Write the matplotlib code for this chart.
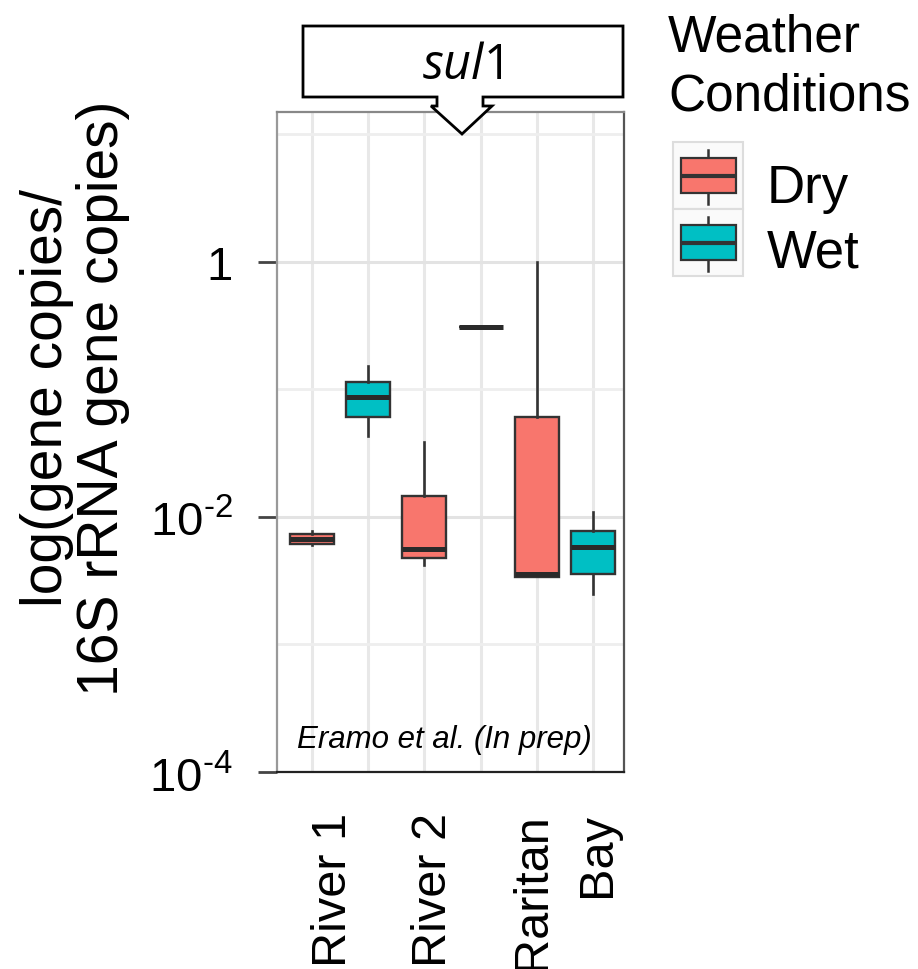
import numpy as np
import matplotlib
matplotlib.use("Agg")
import matplotlib.pyplot as plt
from matplotlib.patches import Rectangle, Polygon
from matplotlib.lines import Line2D
from matplotlib.ticker import FixedLocator, NullFormatter
import matplotlib.transforms as mtransforms

# ---------------- data ----------------
categories = ["River 1", "River 2", "Raritan\nBay"]
conditions = ["Dry", "Wet"]
colors = ["#F8766D", "#00BFC4"]

# five-number summaries (gene copies / 16S rRNA gene copies)
dry_whislo = [0.0060, 0.0042, 0.0034]
dry_q1 = [0.0061, 0.0048, 0.0034]
dry_med = [0.0067, 0.0056, 0.0036]
dry_q3 = [0.0074, 0.0146, 0.061]
dry_whishi = [0.0078, 0.039, 1.0]

wet_whislo = [0.043, 0.31, 0.0025]
wet_q1 = [0.061, 0.31, 0.0036]
wet_med = [0.088, 0.31, 0.0058]
wet_q3 = [0.115, 0.31, 0.0078]
wet_whishi = [0.153, 0.31, 0.0109]

ytick_values = [1, 1e-2, 1e-4]
ytick_labels = ["1", r"10$^{\text{-2}}$", r"10$^{\text{-4}}$"]
ygrid_minor = [10, 1e-1, 1e-3]

# ---------------- style ----------------
plt.rcParams['font.family'] = ['Liberation Sans', 'DejaVu Sans']
plt.rcParams['mathtext.fontset'] = 'custom'
plt.rcParams['mathtext.rm'] = 'Liberation Sans'
plt.rcParams['mathtext.it'] = 'Open Sans:italic'

W, H = 918, 970
fig = plt.figure(figsize=(W / 100, H / 100), dpi=100)


def fx(px):
    return px / W


def fy(py):
    return 1 - py / H


ax = fig.add_axes([fx(277), fy(773), (624 - 277) / W, (773 - 113) / H])
ax.set_yscale('log')
ax.set_ylim(1e-4, 10 ** 1.176)
ax.set_xlim(0.44, 3.524)
ax.set_axisbelow(True)

series = [
    (dry_whislo, dry_q1, dry_med, dry_q3, dry_whishi),
    (wet_whislo, wet_q1, wet_med, wet_q3, wet_whishi),
]
offset = 0.25
width = 0.39
cat_pos = np.arange(1, len(categories) + 1)
all_pos = []
for ci, (vals, col) in enumerate(zip(series, colors)):
    lo, q1, med, q3, hi = vals
    stats = [dict(whislo=lo[i], q1=q1[i], med=med[i], q3=q3[i], whishi=hi[i], fliers=[])
             for i in range(len(categories))]
    pos = cat_pos + (ci - 0.5) * 2 * offset
    all_pos.extend(pos)
    ax.bxp(stats, positions=pos, widths=width, patch_artist=True,
           showfliers=False, showcaps=False, manage_ticks=False,
           boxprops=dict(facecolor=col, edgecolor='#333333', linewidth=1.7),
           medianprops=dict(color='#2a2a2a', linewidth=3.6, solid_capstyle='butt'),
           whiskerprops=dict(color='#333333', linewidth=1.9),
           zorder=3)

# grid
ax.set_xticks(sorted(all_pos), minor=True)
ax.xaxis.grid(True, which='minor', color='#E8E8E8', linewidth=2.2)
ax.yaxis.set_major_locator(FixedLocator(ytick_values))
ax.set_yticklabels(ytick_labels)
ax.yaxis.set_minor_locator(FixedLocator(ygrid_minor))
ax.yaxis.set_minor_formatter(NullFormatter())
ax.yaxis.grid(True, which='major', color='#E3E3E3', linewidth=2.2)
ax.yaxis.grid(True, which='minor', color='#EEEEEE', linewidth=2.0)

ax.tick_params(axis='y', which='major', length=14, width=2, color='#444444',
               pad=18, labelsize=34)
ax.tick_params(axis='y', which='minor', length=0)
ax.tick_params(axis='x', which='both', length=0)
ax.set_xticks(cat_pos)
ax.set_xticklabels(categories, rotation=90, fontsize=35)
ax.tick_params(axis='x', which='major', pad=29)
label_shift_px = [-7, -19, 0]
for lab, dx in zip(ax.get_xticklabels(), label_shift_px):
    lab.set_multialignment('right')
    lab.set_linespacing(1.55)
    lab.set_transform(lab.get_transform() +
                      mtransforms.ScaledTranslation(dx / 100, 0, fig.dpi_scale_trans))

ax.spines['left'].set_color('#999999')
ax.spines['top'].set_color('#888888')
ax.spines['right'].set_color('#555555')
ax.spines['bottom'].set_color('#222222')
for s in ax.spines.values():
    s.set_linewidth(1.6)

ax.text((444 - 277) / 347, (773 - 740) / 660, "Eramo et al. (In prep)",
        transform=ax.transAxes, ha='center', va='center', fontsize=22.5,
        fontstyle='italic')

# y label
fig.text(fx(75), fy(398), "log(gene copies/\n16S rRNA gene copies)", rotation=90,
         ha='center', va='center', fontsize=41, linespacing=1.07)

# strip header with arrow
hdr = [(303, 27), (623, 27), (623, 98), (483, 98), (483, 107), (492, 107),
       (462, 135), (431, 107), (437, 107), (437, 98), (303, 98)]
fig.patches.append(Polygon([(fx(x), fy(y)) for x, y in hdr], closed=True,
                           transform=fig.transFigure, facecolor='white',
                           edgecolor='black', linewidth=2.0, zorder=5))
fig.text(fx(462), fy(66), r"$\mathit{sul}$1", family=['Open Sans', 'DejaVu Sans'],
         ha='center', va='center', fontsize=35, zorder=6)

# legend
fig.text(fx(668), fy(13), "Weather\nConditions", ha='left', va='top',
         fontsize=37, linespacing=1.28)
key_tops = [143, 210]
label_baselines = [203, 268]
for i, (name, col) in enumerate(zip(conditions, colors)):
    t = key_tops[i]
    fig.patches.append(Rectangle((fx(673), fy(t + 67)), 70 / W, 67 / H,
                                 transform=fig.transFigure, facecolor='#FAFAFA',
                                 edgecolor='#DDDDDD', linewidth=1.5, zorder=2))
    fig.lines.append(Line2D([fx(708), fx(708)], [fy(t + 8), fy(t + 62)],
                            transform=fig.transFigure, color='#333333',
                            linewidth=1.8, zorder=3))
    fig.patches.append(Rectangle((fx(681), fy(t + 51)), 55 / W, 35 / H,
                                 transform=fig.transFigure, facecolor=col,
                                 edgecolor='#333333', linewidth=1.6, zorder=4))
    fig.lines.append(Line2D([fx(681), fx(736)], [fy(t + 34), fy(t + 34)],
                            transform=fig.transFigure, color='#333333',
                            linewidth=3.0, zorder=5, solid_capstyle='butt'))
    fig.text(fx(767), fy(label_baselines[i]), name, ha='left', va='baseline',
             fontsize=38)

fig.savefig("out.png", dpi=100)
